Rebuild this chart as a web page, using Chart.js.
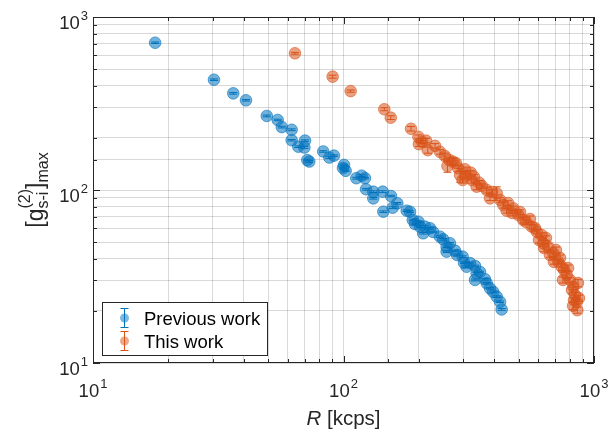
<!DOCTYPE html>
<html>
<head>
<meta charset="utf-8">
<script src="https://cdn.jsdelivr.net/npm/chart.js@4.4.1/dist/chart.umd.min.js"></script>
<style>
    html, body { margin: 0; padding: 0; background: #fff; }
    #wrap { width: 613px; height: 432px; }
</style>
</head>
<body>
<div id="wrap"><canvas id="chart" width="613" height="432"></canvas></div>
<script>
// Previous work (blue)
const prevX = [17.7, 30.4, 36.3, 40.8, 49.4, 54.6, 56.7, 62.1, 62.1, 66.0, 69.8, 70.2, 71.7, 73.0, 83.0, 87.8, 91.6, 99.5, 100.5, 102,
    112.5, 118.2, 121.8, 123, 131.5, 131.5, 143.4, 144.2, 154.8, 157.2, 164, 178.8, 184.3, 189, 193, 199, 202, 208, 211.5, 221.5,
    227.7, 242.8, 250, 258, 258, 266, 278.7, 284, 299, 302.7, 310, 320, 335, 335, 340, 350.7, 367, 373, 384.5, 396,
    409, 421.6, 428];
const prevY = [710, 434, 362, 330, 268, 254, 231, 223, 194, 178, 176, 193, 149, 146, 167, 154, 158, 134, 139.6, 129,
    117, 121, 117, 101, 97.8, 89.5, 97.8, 74.9, 92.3, 79.0, 83.8, 75.9, 74.9, 67.1, 63.6, 65.6, 61.4, 56.2, 61.4, 60.1,
    57.2, 53.7, 51.9, 47.0, 44.0, 49.2, 44.6, 42.1, 41.2, 38.0, 36.0, 37.8, 36.4, 30.2, 33.0, 33.6, 30.5, 28.9, 27.0, 25.8,
    24.2, 22.6, 20.4];
const prevErr = [0.010, 0.010, 0.011, 0.010, 0.012, 0.010, 0.011, 0.012, 0.010, 0.011, 0.012, 0.010, 0.011, 0.012, 0.010, 0.011, 0.010, 0.012, 0.011, 0.010,
    0.012, 0.011, 0.010, 0.012, 0.011, 0.010, 0.012, 0.011, 0.010, 0.012, 0.011, 0.010, 0.012, 0.011, 0.010, 0.012, 0.011, 0.010, 0.012, 0.011,
    0.010, 0.012, 0.011, 0.010, 0.012, 0.011, 0.010, 0.012, 0.011, 0.010, 0.012, 0.011, 0.010, 0.012, 0.011, 0.010, 0.012, 0.011, 0.010, 0.012,
    0.011, 0.010, 0.012];

// This work (orange)
const thisX = [64.0, 90.5, 106.8, 145.5, 154.4, 186, 199, 200, 206, 213.5, 217, 232, 243, 254, 260, 264, 273, 281, 287, 292,
    299, 305.5, 308, 322, 325, 332, 340, 348, 357, 373, 384.5, 392, 409, 422, 434.5, 448, 454, 471, 476, 499,
    507, 522, 535, 555, 564, 581, 591, 603, 618, 627.5, 632, 643, 657, 667, 688, 692, 705, 720, 732, 743,
    752, 759, 778, 788, 802, 817, 825, 827, 832, 840, 853, 858, 863, 871];
const thisY = [617, 452, 373, 293, 262, 226, 203, 184, 189.5, 193, 170, 180, 166, 157, 137.6, 149, 146, 143, 133.5, 122,
    114.2, 131.7, 120.5, 126, 114.2, 119, 104.5, 110.2, 105.5, 100, 89.5, 97.4, 95.7, 87.6, 81.9, 75.9, 84.1, 73.7, 78.4, 71.7,
    74.6, 67.1, 65.3, 68.0, 61.4, 60.3, 57.4, 51.4, 54.9, 49.2, 46.2, 52.8, 47.0, 42.1, 43.1, 38.4, 45.0, 38.5, 40.5, 36.0,
    30.2, 34.5, 32.3, 35.4, 30.2, 26.4, 21.4, 27.6, 23.1, 24.7, 22.6, 20.2, 29.0, 23.7];
const thisErr = [0.012, 0.020, 0.015, 0.020, 0.025, 0.030, 0.025, 0.030, 0.020, 0.030, 0.040, 0.030, 0.030, 0.040, 0.080, 0.030, 0.040, 0.030, 0.040, 0.090,
    0.040, 0.030, 0.040, 0.030, 0.040, 0.030, 0.040, 0.030, 0.030, 0.040, 0.030, 0.030, 0.090, 0.030, 0.040, 0.030, 0.030, 0.040, 0.030, 0.040,
    0.030, 0.040, 0.030, 0.040, 0.030, 0.040, 0.030, 0.040, 0.030, 0.040, 0.050, 0.030, 0.040, 0.030, 0.040, 0.030, 0.040, 0.030, 0.040, 0.050,
    0.040, 0.030, 0.050, 0.040, 0.030, 0.040, 0.050, 0.040, 0.030, 0.040, 0.030, 0.040, 0.050, 0.040];

const majorTicks = [10, 100, 1000];
const seriesNames = ['Previous work', 'This work'];

const FONT = '"Liberation Sans", Arial, Helvetica, sans-serif';
const AXIS = '#262626';
const BLUE = [0, 114, 189];
const ORANGE = [217, 83, 25];
const rgba = (c, a) => `rgba(${c[0]}, ${c[1]}, ${c[2]}, ${a})`;

function toPoints(xs, ys) {
    return xs.map((x, i) => ({ x: x, y: ys[i] }));
}

// "10" with a raised exponent
function drawPower(ctx, exp, x, y, align) {
    ctx.font = `18.5px ${FONT}`;
    const w1 = ctx.measureText('10').width;
    ctx.font = `13px ${FONT}`;
    const w2 = ctx.measureText(String(exp)).width;
    const total = w1 + 1 + w2;
    const x0 = align === 'right' ? x - total : x - total / 2;
    ctx.fillStyle = AXIS;
    ctx.textAlign = 'left';
    ctx.textBaseline = 'alphabetic';
    ctx.font = `18.5px ${FONT}`;
    ctx.fillText('10', x0, y);
    ctx.font = `13px ${FONT}`;
    ctx.fillText(String(exp), x0 + w1 + 1, y - 9);
}

function drawErrorBar(ctx, x, yLo, yHi, color) {
    ctx.strokeStyle = color;
    ctx.lineWidth = 1;
    ctx.beginPath();
    ctx.moveTo(x, yLo); ctx.lineTo(x, yHi);
    ctx.moveTo(x - 4, yLo); ctx.lineTo(x + 4, yLo);
    ctx.moveTo(x - 4, yHi); ctx.lineTo(x + 4, yHi);
    ctx.stroke();
}

const errorBarPlugin = {
    id: 'errorBars',
    beforeDatasetsDraw(chart) {
        const { ctx, scales: { x, y }, chartArea } = chart;
        ctx.save();
        ctx.beginPath();
        ctx.rect(chartArea.left, chartArea.top, chartArea.right - chartArea.left, chartArea.bottom - chartArea.top);
        ctx.clip();
        chart.data.datasets.forEach((ds) => {
            ds.data.forEach((p, i) => {
                const e = ds.errors[i];
                const px = x.getPixelForValue(p.x);
                drawErrorBar(ctx, px, y.getPixelForValue(p.y * (1 - e)), y.getPixelForValue(p.y * (1 + e)), ds.barColor);
            });
        });
        ctx.restore();
    },
};

const framePlugin = {
    id: 'frame',
    afterDraw(chart) {
        const { ctx, chartArea: a, scales } = chart;
        ctx.save();
        // inward ticks on all four sides
        ctx.strokeStyle = AXIS;
        ctx.lineWidth = 1;
        ctx.beginPath();
        scales.x.ticks.forEach((t) => {
            const px = Math.round(scales.x.getPixelForValue(t.value)) + 0.5;
            const len = majorTicks.includes(t.value) ? 7 : 4;
            ctx.moveTo(px, a.bottom); ctx.lineTo(px, a.bottom - len);
            ctx.moveTo(px, a.top); ctx.lineTo(px, a.top + len);
        });
        scales.y.ticks.forEach((t) => {
            const py = Math.round(scales.y.getPixelForValue(t.value)) + 0.5;
            const len = majorTicks.includes(t.value) ? 7 : 4;
            ctx.moveTo(a.left, py); ctx.lineTo(a.left + len, py);
            ctx.moveTo(a.right, py); ctx.lineTo(a.right - len, py);
        });
        ctx.stroke();
        ctx.strokeRect(Math.round(a.left) + 0.5, Math.round(a.top) + 0.5,
            Math.round(a.right - a.left) - 1, Math.round(a.bottom - a.top) - 1);

        // tick labels
        majorTicks.forEach((v) => {
            const exp = Math.round(Math.log10(v));
            drawPower(ctx, exp, scales.x.getPixelForValue(v), a.bottom + 34, 'center');
            drawPower(ctx, exp, a.left - 5, scales.y.getPixelForValue(v) + 12, 'right');
        });

        // x title: italic R
        ctx.fillStyle = AXIS;
        ctx.textBaseline = 'alphabetic';
        ctx.textAlign = 'left';
        ctx.font = `italic 20.5px ${FONT}`;
        const wR = ctx.measureText('R').width;
        ctx.font = `20.5px ${FONT}`;
        const wRest = ctx.measureText(' [kcps]').width;
        const xt = (a.left + a.right) / 2 - (wR + wRest) / 2;
        ctx.font = `italic 20.5px ${FONT}`;
        ctx.fillText('R', xt, 425);
        ctx.font = `20.5px ${FONT}`;
        ctx.fillText(' [kcps]', xt + wR, 425);

        // y title: [g^(2)_s-i]_max, rotated
        const big = `23px ${FONT}`;
        const small = `16px ${FONT}`;
        ctx.font = big;
        const w1 = ctx.measureText('[g').width;
        const w3 = ctx.measureText(']').width;
        ctx.font = small;
        const wSup = ctx.measureText('(2)').width;
        const wSub = ctx.measureText('s-i').width;
        const w2 = Math.max(wSup, wSub);
        const w4 = ctx.measureText('max').width;
        const total = w1 + w2 + w3 + w4;
        ctx.translate(43, (a.top + a.bottom) / 2);
        ctx.rotate(-Math.PI / 2);
        let cx = -total / 2;
        ctx.font = big;
        ctx.fillText('[g', cx, 0);
        cx += w1;
        ctx.font = small;
        ctx.fillText('(2)', cx, -13);
        ctx.fillText('s-i', cx, 5);
        cx += w2;
        ctx.font = big;
        ctx.fillText(']', cx, 0);
        cx += w3;
        ctx.font = small;
        ctx.fillText('max', cx, 5);
        ctx.restore();

        // legend box
        ctx.save();
        const lx = 102.5, ly = 302.5, lw = 165, lh = 53;
        ctx.fillStyle = '#fff';
        ctx.fillRect(lx, ly, lw, lh);
        ctx.strokeStyle = AXIS;
        ctx.lineWidth = 1;
        ctx.strokeRect(lx, ly, lw, lh);
        const rows = [
            { cy: 318, col: BLUE },
            { cy: 341, col: ORANGE },
        ];
        rows.forEach((r, i) => {
            drawErrorBar(ctx, 124.5, r.cy - 9.5, r.cy + 9.5, rgba(r.col, 1));
            ctx.beginPath();
            ctx.arc(124.5, r.cy, 4.5, 0, Math.PI * 2);
            ctx.fillStyle = rgba(r.col, 0.5);
            ctx.fill();
            ctx.fillStyle = '#000';
            ctx.font = `18.5px ${FONT}`;
            ctx.textAlign = 'left';
            ctx.textBaseline = 'alphabetic';
            ctx.fillText(seriesNames[i], 144, r.cy + 7);
        });
        ctx.restore();
    },
};

const logAxis = {
    type: 'logarithmic',
    min: 10,
    max: 1000,
    ticks: { display: false, autoSkip: false },
    grid: { color: 'rgba(0, 0, 0, 0.15)', lineWidth: 1, drawTicks: false },
    border: { display: false },
};

new Chart(document.getElementById('chart'), {
    type: 'scatter',
    data: {
        datasets: [
            {
                label: seriesNames[0],
                data: toPoints(prevX, prevY),
                errors: prevErr,
                barColor: rgba(BLUE, 1),
                pointRadius: 5.8,
                pointBorderWidth: 1,
                pointBackgroundColor: rgba(BLUE, 0.55),
                pointBorderColor: rgba(BLUE, 0.6),
            },
            {
                label: seriesNames[1],
                data: toPoints(thisX, thisY),
                errors: thisErr,
                barColor: rgba(ORANGE, 1),
                pointRadius: 5.8,
                pointBorderWidth: 1,
                pointBackgroundColor: rgba(ORANGE, 0.55),
                pointBorderColor: rgba(ORANGE, 0.6),
            },
        ],
    },
    options: {
        responsive: false,
        animation: false,
        devicePixelRatio: 1,
        layout: { padding: { top: 17, right: 19, left: 0, bottom: 0 } },
        scales: {
            x: Object.assign({}, logAxis, {
                afterFit: (scale) => { scale.height = 69; },
            }),
            y: Object.assign({}, logAxis, {
                afterFit: (scale) => { scale.width = 93; },
            }),
        },
        plugins: {
            legend: { display: false },
            tooltip: { enabled: false },
        },
    },
    plugins: [errorBarPlugin, framePlugin],
});
</script>
</body>
</html>
